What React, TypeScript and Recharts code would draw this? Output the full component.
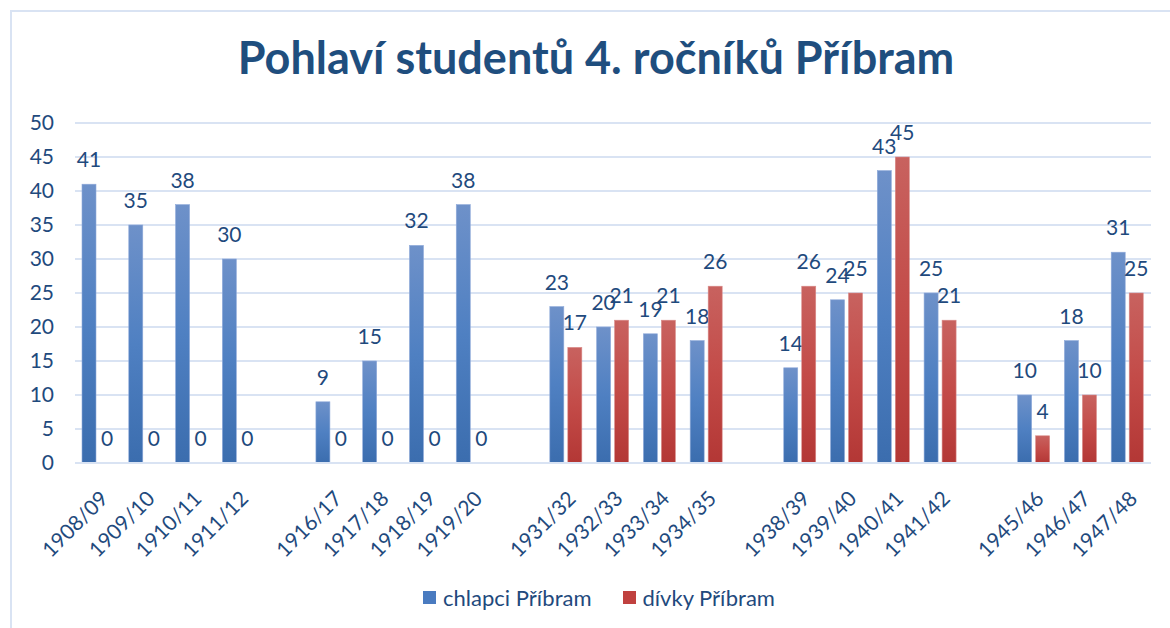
import React from 'react';
import { BarChart, Bar, XAxis, YAxis, CartesianGrid } from 'recharts';

const title = 'Pohlaví studentů 4. ročníků Příbram';
const seriesNames = ['chlapci Příbram', 'dívky Příbram'];
const categories = ['1908/09', '1909/10', '1910/11', '1911/12', '', '1916/17', '1917/18', '1918/19', '1919/20', '', '1931/32', '1932/33', '1933/34', '1934/35', '', '1938/39', '1939/40', '1940/41', '1941/42', '', '1945/46', '1946/47', '1947/48'];
const boys = [41, 35, 38, 30, null, 9, 15, 32, 38, null, 23, 20, 19, 18, null, 14, 24, 43, 25, null, 10, 18, 31];
const girls = [0, 0, 0, 0, null, 0, 0, 0, 0, null, 17, 21, 21, 26, null, 26, 25, 45, 21, null, 4, 10, 25];
const yTicks = [0, 5, 10, 15, 20, 25, 30, 35, 40, 45, 50];

const data = categories.map((c, i) => ({ cat: c, boys: boys[i], girls: girls[i] }));

const TEXT = '#1F4A7D';
const GRID = '#D9E3F3';
const FONT = 'Lato, "Open Sans", sans-serif';

const XTick = (props: any) => {
  const { x, y, payload } = props;
  if (!payload || !payload.value) return null;
  const bx = x + 11;
  const by = y + 29;
  return (
    <text x={bx} y={by} textAnchor="end" fill={TEXT} fontSize={21} fontFamily={FONT} transform={`rotate(-45, ${bx}, ${by})`}>
      {payload.value}
    </text>
  );
};

const YTick = (props: any) => {
  const { y, payload } = props;
  return (
    <text x={54} y={y + 7} textAnchor="end" fill={TEXT} fontSize={21} fontFamily={FONT}>
      {payload.value}
    </text>
  );
};

const makeShape = (key: string, fill: string, stroke: string) => (props: any) => {
  const { x, y, width, height, payload } = props;
  const value = payload ? payload[key] : null;
  if (value === null || value === undefined) return <g />;
  return (
    <g>
      {height > 0 && <rect x={x} y={y} width={width} height={height} fill={fill} stroke={stroke} strokeWidth={0.6} />}
      <text x={x + width / 2} y={y - 17} textAnchor="middle" fill={TEXT} fontSize={21} fontFamily={FONT}>
        {value}
      </text>
    </g>
  );
};

export default function App() {
  return (
    <div style={{ position: 'absolute', left: 0, top: 0, width: 1170, height: 628, background: '#fff', overflow: 'hidden' }}>
      <div style={{ position: 'absolute', left: 10, top: 10, width: 1200, height: 700, borderTop: `2px solid ${GRID}`, borderLeft: `2px solid ${GRID}` }} />
      <div style={{ position: 'absolute', left: 0, top: 30, width: 1192, textAlign: 'center', fontFamily: FONT, fontWeight: 700, fontSize: 45, color: '#1F4E7E' }}>
        {title}
      </div>
      <div style={{ position: 'absolute', left: 0, top: 0 }}>
        <BarChart width={1170} height={628} data={data} margin={{ top: 123, right: 19, left: 0, bottom: 65 }} barSize={14} barGap={4}>
          <defs>
            <linearGradient id="gBlue" x1="0" y1="0" x2="0" y2="1">
              <stop offset="0%" stopColor="#6E91C9" />
              <stop offset="50%" stopColor="#4F80C2" />
              <stop offset="100%" stopColor="#3B6DAE" />
            </linearGradient>
            <linearGradient id="gRed" x1="0" y1="0" x2="0" y2="1">
              <stop offset="0%" stopColor="#C8625F" />
              <stop offset="50%" stopColor="#C34B48" />
              <stop offset="100%" stopColor="#B33735" />
            </linearGradient>
          </defs>
          <CartesianGrid vertical={false} stroke={GRID} strokeWidth={2} />
          <XAxis dataKey="cat" interval={0} tickLine={false} axisLine={{ stroke: GRID, strokeWidth: 2 }} tick={<XTick />} height={100} />
          <YAxis domain={[0, 50]} ticks={yTicks} width={75} axisLine={false} tickLine={false} tick={<YTick />} />
          <Bar dataKey="boys" name={seriesNames[0]} fill="url(#gBlue)" isAnimationActive={false} shape={makeShape('boys', 'url(#gBlue)', '#8FAADA')} />
          <Bar dataKey="girls" name={seriesNames[1]} fill="url(#gRed)" isAnimationActive={false} shape={makeShape('girls', 'url(#gRed)', '#D98A88')} />
        </BarChart>
      </div>
      <div style={{ position: 'absolute', left: 423, top: 584, display: 'flex', fontFamily: FONT, fontSize: 22, color: TEXT }}>
        <div style={{ display: 'flex', alignItems: 'center' }}>
          <span style={{ display: 'inline-block', width: 13, height: 13, background: '#4A7BC0', marginRight: 7 }} />
          <span>{seriesNames[0]}</span>
        </div>
        <div style={{ display: 'flex', alignItems: 'center', marginLeft: 31 }}>
          <span style={{ display: 'inline-block', width: 13, height: 13, background: '#C0413F', marginRight: 7 }} />
          <span>{seriesNames[1]}</span>
        </div>
      </div>
    </div>
  );
}
